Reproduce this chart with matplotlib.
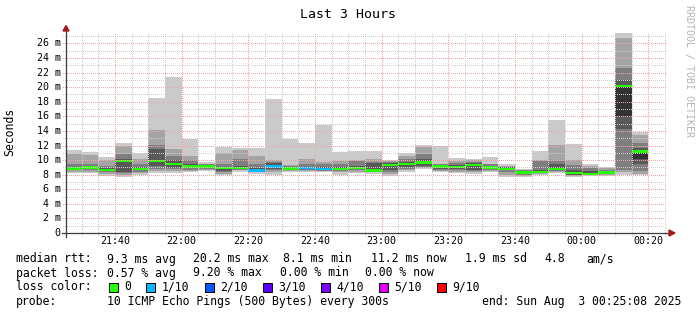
import matplotlib
matplotlib.use("Agg")
import matplotlib.pyplot as plt
from matplotlib.patches import Rectangle, Polygon
from matplotlib.lines import Line2D
from matplotlib.transforms import blended_transform_factory
import numpy as np

# ---------------- data ----------------
bar_starts = ["21:25", "21:30", "21:35", "21:40", "21:45", "21:50", "21:55",
              "22:00", "22:05", "22:10", "22:15", "22:20", "22:25", "22:30",
              "22:35", "22:40", "22:45", "22:50", "22:55", "23:00", "23:05",
              "23:10", "23:15", "23:20", "23:25", "23:30", "23:35", "23:40",
              "23:45", "23:50", "23:55", "00:00", "00:05", "00:10", "00:15"]

# sorted ping rtts (ms) per 5-minute step: ping1 (lowest) ... ping10 (highest)
ping1 = [8.2, 8.2, 7.8, 7.7, 8.0, 8.2, 8.2, 8.3, 8.55, 7.9, 8.4, 8.1, 8.0, 8.3, 8.3, 8.3, 8.0, 8.2,
         8.1, 7.8, 8.4, 8.8, 8.3, 8.2, 8.1, 8.3, 7.7, 7.65, 8.0, 8.2, 7.65, 7.85, 7.85, 7.9, 7.9]
ping2 = [8.4, 8.4, 8.1, 8.0, 8.2, 8.5, 8.5, 8.5, 8.7, 8.1, 8.6, 8.3, 8.4, 8.5, 8.5, 8.45, 8.3, 8.4,
         8.3, 8.1, 8.6, 8.9, 8.5, 8.4, 8.3, 8.5, 8.0, 7.8, 8.1, 8.4, 7.8, 7.9, 7.95, 8.4, 8.1]
ping3 = [8.6, 8.6, 8.3, 8.2, 8.4, 8.8, 8.8, 8.7, 8.8, 8.3, 8.7, 8.45, 8.6, 8.6, 8.6, 8.55, 8.5, 8.6,
         8.4, 8.4, 8.8, 9.0, 8.6, 8.6, 8.5, 8.7, 8.3, 7.95, 8.2, 8.5, 7.9, 7.95, 8.05, 8.7, 8.5]
ping4 = [8.7, 8.8, 8.5, 8.4, 8.6, 9.2, 8.9, 8.9, 8.9, 8.5, 8.8, 8.55, 8.8, 8.75, 8.75, 8.65, 8.65, 8.75,
         8.5, 8.6, 9.0, 9.2, 8.8, 8.8, 8.7, 8.85, 8.6, 8.1, 8.3, 8.6, 8.0, 8.0, 8.15, 14.2, 9.4]
ping5 = [8.8, 8.95, 8.6, 9.7, 8.75, 9.8, 9.4, 9.05, 9.05, 8.85, 8.85, 8.6, 9.1, 8.85, 8.85, 8.7, 8.7, 8.85,
         8.55, 9.3, 9.45, 9.65, 9.05, 9.0, 9.25, 8.95, 8.75, 8.25, 8.35, 8.75, 8.15, 8.05, 8.25, 16.0, 10.2]
ping6 = [8.9, 9.05, 8.7, 9.9, 8.85, 10.0, 9.6, 9.15, 9.15, 8.95, 8.95, 8.65, 9.3, 8.95, 8.95, 8.8, 8.8, 8.95,
         8.65, 9.4, 9.55, 9.75, 9.15, 9.1, 9.35, 9.05, 8.85, 8.35, 8.45, 8.85, 8.25, 8.15, 8.35, 20.3, 11.2]
ping7 = [9.1, 9.2, 8.9, 10.2, 9.0, 11.5, 10.0, 9.4, 9.3, 9.1, 9.2, 8.9, 9.6, 9.1, 9.1, 9.0, 9.0, 9.2,
         9.55, 9.6, 9.8, 10.1, 9.3, 9.3, 9.6, 9.2, 9.0, 8.5, 8.7, 9.5, 8.6, 8.5, 8.5, 21.0, 11.6]
ping8 = [9.4, 9.5, 9.2, 10.8, 9.4, 12.1, 10.5, 10.0, 9.4, 9.5, 10.15, 9.5, 9.8, 9.2, 9.5, 9.4, 9.4, 9.9,
         9.8, 9.8, 10.1, 10.9, 9.4, 9.6, 9.8, 9.4, 9.1, 8.6, 9.9, 9.9, 9.3, 8.9, 8.7, 22.6, 12.35]
ping9 = [10.8, 10.7, 10.0, 12.0, 10.2, 14.1, 11.5, 10.6, 9.5, 11.0, 11.4, 10.5, 10.0, 9.3, 10.1, 9.8, 9.9, 10.0,
         10.15, 9.9, 10.5, 11.8, 9.5, 9.9, 9.95, 9.5, 9.2, 8.7, 10.0, 12.1, 10.0, 9.15, 8.85, 26.8, 13.4]
ping10 = [11.4, 11.1, 10.4, 12.4, 11.0, 18.5, 21.4, 12.9, 9.7, 11.8, 11.6, 11.6, 18.4, 12.85, 12.3, 14.8, 11.15, 11.25,
          11.25, 10.0, 11.0, 12.1, 11.9, 10.25, 10.1, 10.4, 9.5, 8.8, 11.25, 15.5, 12.2, 9.5, 9.0, 27.4, 13.85]

median_rtt = [8.85, 9.0, 8.65, 9.85, 8.8, 9.9, 9.5, 9.1, 9.1, 8.9, 8.9, 8.6, 9.15, 8.85, 8.9, 8.75, 8.75, 8.9,
              8.6, 9.35, 9.5, 9.7, 9.1, 9.05, 9.3, 9.0, 8.8, 8.3, 8.4, 8.8, 8.2, 8.1, 8.3, 20.2, 11.2]
lost_pings = [0, 0, 0, 0, 0, 0, 0, 0, 0, 0, 0, 1, 1, 0, 1, 1, 0, 0,
              0, 0, 0, 0, 0, 0, 0, 0, 0, 0, 0, 0, 0, 0, 0, 0, 0]

x_tick_labels = ["21:40", "22:00", "22:20", "22:40", "23:00", "23:20", "23:40", "00:00", "00:20"]
y_tick_values = [0, 2, 4, 6, 8, 10, 12, 14, 16, 18, 20, 22, 24, 26]
y_tick_labels = ["0"] + ["%d m" % v for v in y_tick_values[1:]]

loss_levels = ["0", "1/10", "2/10", "3/10", "4/10", "5/10", "9/10"]
loss_level_colors = ["#26ff00", "#00b8ff", "#0059ff", "#5e00ff", "#7e00ff", "#dd00ff", "#ff0000"]
loss_color_of = {0: "#26ff00", 1: "#00b8ff", 2: "#0059ff", 3: "#5e00ff", 4: "#7e00ff", 5: "#dd00ff", 9: "#ff0000"}

smoke_colors = ["#cacaca", "#a4a4a4", "#7e7e7e", "#585858", "#323232"]

title = "Last 3 Hours"
y_label = "Seconds"
start_label, end_label = "21:25:08", "00:25:08"

# ---------------- helpers ----------------
def to_min(s):
    parts = [int(p) for p in s.split(":")]
    h, m = parts[0], parts[1]
    sec = parts[2] if len(parts) > 2 else 0
    if h < 12:
        h += 24
    return (h - 21) * 60 + m + sec / 60.0

W, H = 697, 315
MONO = "DejaVu Sans Mono"
fig = plt.figure(figsize=(W / 100, H / 100), dpi=100)
fig.patch.set_facecolor("white")

def fx(x):
    return x / W

def fy(y):
    return 1 - y / H

x0_px, x1_px = 65.5, 665.5
y0_px, y1_px = 233.0, 32.0
ymax = (y0_px - y1_px) / 7.29
ax = fig.add_axes([fx(x0_px), fy(y0_px), (x1_px - x0_px) / W, (y0_px - y1_px) / H])
ax.set_facecolor("white")
xmin, xmax = to_min(start_label), to_min(end_label)
ax.set_xlim(xmin, xmax)
ax.set_ylim(0, ymax)
for s in ax.spines.values():
    s.set_visible(False)
ax.set_xticks([])
ax.set_yticks([])

# ---------------- smoke ----------------
xs = np.array([to_min(t) for t in bar_starts])
pings = np.array([ping1, ping2, ping3, ping4, ping5, ping6, ping7, ping8, ping9, ping10])
for i in range(5):
    lo = pings[i]
    hi = pings[9 - i]
    ax.bar(xs, hi - lo, bottom=lo, width=5, align="edge", color=smoke_colors[i],
           linewidth=0, zorder=2)

# median line (thick, coloured by loss)
mh = 0.34
med = np.array(median_rtt)
cols = [loss_color_of[l] for l in lost_pings]
ax.bar(xs, mh, bottom=med - mh / 2, width=5, align="edge", color=cols, linewidth=0, zorder=3)

# ---------------- grid ----------------
px_per_min = (x1_px - x0_px) / (xmax - xmin)
px_per_ms = 7.29
ext_x = 3 / px_per_min
ext_y = 2.5 / px_per_ms
minor_c = "#cdcdcd"
major_c = "#eba6a6"
grid_kw = dict(lw=0.72, ls=(0, (1, 1.2)), zorder=4, clip_on=False,
               antialiased=False, snap=True, dash_capstyle="butt")
for v in range(1, int(ymax) + 1):
    c = major_c if v % 2 == 0 else minor_c
    ax.plot([xmin - ext_x, xmax], [v, v], color=c, **grid_kw)
major_x = [to_min(t) for t in x_tick_labels]
t = 30.0
while t <= xmax:
    is_major = any(abs(t - m) < 1e-6 for m in major_x)
    c = major_c if is_major else minor_c
    ax.plot([t, t], [-ext_y, ymax], color=c, **grid_kw)
    t += 5

# ---------------- axes lines & arrows ----------------
axis_c = "#3c3c3c"
arrow_c = "#a01c1c"
fig.add_artist(Line2D([fx(62), fx(669)], [fy(233), fy(233)], color=axis_c, lw=0.9,
                      transform=fig.transFigure, zorder=5))
fig.add_artist(Line2D([fx(66), fx(66)], [fy(237), fy(31)], color=axis_c, lw=0.9,
                      transform=fig.transFigure, zorder=5))
fig.add_artist(Polygon([[fx(669), fy(230)], [fx(669), fy(236)], [fx(675), fy(233)]],
                       closed=True, color=arrow_c, transform=fig.transFigure, zorder=6))
fig.add_artist(Polygon([[fx(63), fy(31)], [fx(69), fy(31)], [fx(66), fy(25.5)]],
                       closed=True, color=arrow_c, transform=fig.transFigure, zorder=6))

# ---------------- tick labels ----------------
ytrans = blended_transform_factory(fig.transFigure, ax.transData)
for v, lab in zip(y_tick_values, y_tick_labels):
    ax.text(fx(60.5), v, lab, transform=ytrans, ha="right", va="center",
            fontsize=7.2, family=MONO, color="#000000")
xtrans = blended_transform_factory(ax.transData, fig.transFigure)
for lab in x_tick_labels:
    ax.text(to_min(lab), fy(241.5), lab, transform=xtrans, ha="center", va="center",
            fontsize=7.2, family=MONO, color="#000000")

# ---------------- titles ----------------
fig.text(fx(348.5), fy(14), title, ha="center", va="center", fontsize=9.5, family=MONO)
fig.text(fx(10), fy(132), y_label, rotation=90, ha="center", va="center",
         fontsize=8.3, family=MONO)
fig.text(fx(689), fy(5), "RRDTOOL / TOBI OETIKER", rotation=270, ha="center", va="top",
         fontsize=7.2, family=MONO, color="#b4b4b4")

# ---------------- legend ----------------
FS = 8.3
row_y = [259, 273, 287, 301]
seg_median = [(16, "median rtt:"), (107, "9.3 ms avg"), (193, "20.2 ms max"),
              (283, "8.1 ms min"), (371, "11.2 ms now"), (465, "1.9 ms sd"),
              (544, "4.8"), (586, "am/s")]
for x, s in seg_median:
    fig.text(fx(x), fy(row_y[0]), s, ha="left", va="center", fontsize=FS, family=MONO)
seg_loss = [(16, "packet loss:"), (107, "0.57 % avg"), (193, "9.20 % max"),
            (280, "0.00 % min"), (365, "0.00 % now")]
for x, s in seg_loss:
    fig.text(fx(x), fy(row_y[1]), s, ha="left", va="center", fontsize=FS, family=MONO)

fig.text(fx(16), fy(row_y[2]), "loss color:", ha="left", va="center", fontsize=FS, family=MONO)
box_x = [108.5, 146, 204.5, 262.5, 321, 379, 437]
for bx, lab, c in zip(box_x, loss_levels, loss_level_colors):
    fig.add_artist(Rectangle((fx(bx), fy(292)), 9 / W, 9 / H, facecolor=c,
                             edgecolor="black", lw=0.7, transform=fig.transFigure))
    fig.text(fx(bx + 15.5), fy(row_y[2]), lab, ha="left", va="center", fontsize=FS, family=MONO)

fig.text(fx(16), fy(row_y[3]), "probe:", ha="left", va="center", fontsize=FS, family=MONO)
fig.text(fx(107), fy(row_y[3]), "10 ICMP Echo Pings (500 Bytes) every 300s", ha="left",
         va="center", fontsize=FS, family=MONO)
fig.text(fx(681), fy(row_y[3]), "end: Sun Aug  3 00:25:08 2025", ha="right", va="center",
         fontsize=FS, family=MONO)

fig.savefig("out.png", dpi=100, facecolor="white")
